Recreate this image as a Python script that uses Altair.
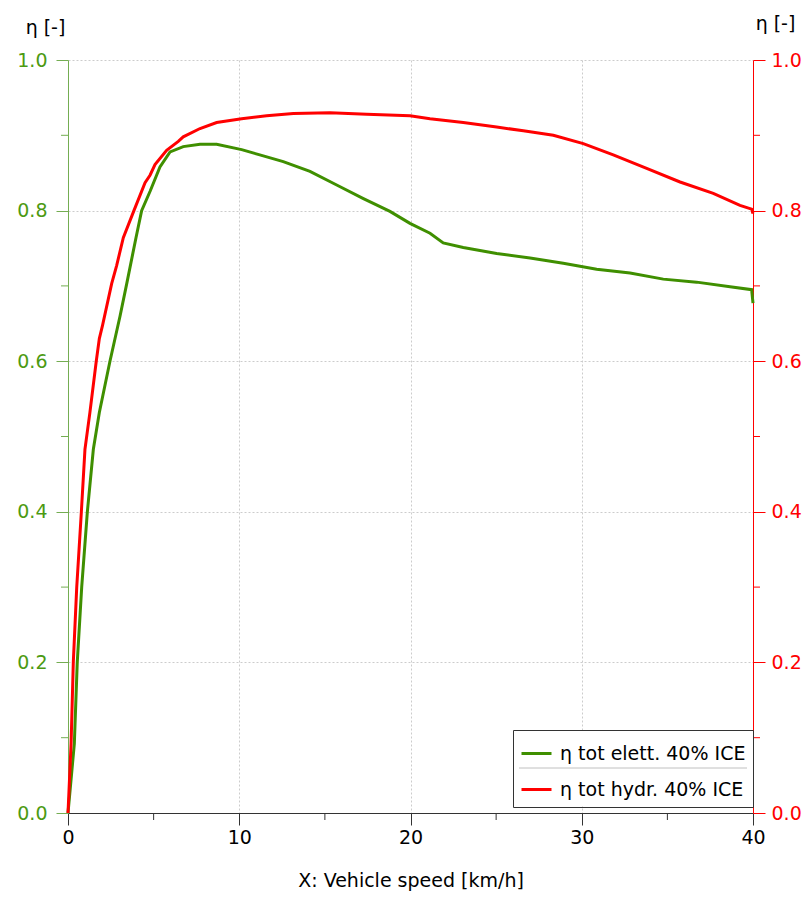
import altair as alt
import pandas as pd

# ---- data ----
speed_elett = [0, 0.37, 0.54, 0.80, 1.13, 1.48, 1.83, 2.45, 3.04, 3.43, 3.97, 4.3, 4.8,
               5.37, 5.96, 6.73, 7.71, 8.68, 10.14, 11.2, 12.57, 14.13, 15.69, 17.25,
               18.8, 19.97, 21.14, 21.91, 23.08, 25.03, 26.98, 28.92, 30.87, 32.82,
               34.76, 36.71, 38.66, 39.92, 40.0]
eta_elett = [0, 0.092, 0.2, 0.3, 0.4, 0.483, 0.532, 0.6, 0.66, 0.703, 0.764, 0.8, 0.826,
             0.858, 0.878, 0.885, 0.888, 0.888, 0.881, 0.874, 0.865, 0.852, 0.834, 0.816,
             0.799, 0.783, 0.770, 0.757, 0.751, 0.743, 0.737, 0.730, 0.722, 0.717,
             0.709, 0.705, 0.699, 0.695, 0.677]

speed_hydr = [0, 0.18, 0.31, 0.51, 0.78, 0.99, 1.28, 1.65, 1.83, 2.02, 2.55, 2.84, 3.23,
              3.85, 4.5, 4.79, 5.08, 5.76, 6.44, 6.73, 7.71, 8.68, 10.14, 11.6, 13.16,
              15.3, 17.44, 19.97, 21.14, 23.08, 25.03, 26.59, 28.34, 30.09, 31.84,
              33.79, 35.74, 37.68, 39.24, 39.92, 40.0]
eta_hydr = [0, 0.092, 0.2, 0.3, 0.4, 0.483, 0.532, 0.6, 0.63, 0.648, 0.703, 0.727, 0.764,
            0.8, 0.837, 0.847, 0.861, 0.880, 0.892, 0.898, 0.909, 0.917, 0.922, 0.926, 0.929,
            0.930, 0.928, 0.926, 0.922, 0.917, 0.911, 0.906, 0.900, 0.889, 0.874,
            0.856, 0.838, 0.823, 0.807, 0.802, 0.796]

series_names = ["η tot elett. 40% ICE", "η tot hydr. 40% ICE"]
series_colors = ["#3f8f00", "#ff0000"]

x_major = [0, 10, 20, 30, 40]
x_minor = [5, 15, 25, 35]
y_major = [0.0, 0.2, 0.4, 0.6, 0.8, 1.0]
y_minor = [0.1, 0.3, 0.5, 0.7, 0.9]

x_title = "X: Vehicle speed [km/h]"
y_title = "η [-]"

# ---- layout / style ----
W, H = 685, 753
FONT = "DejaVu Sans"
GREEN_LABEL = "#4c9a12"
GREEN_AXIS = "#74ad52"
GRID = "#cccccc"

df_e = pd.DataFrame({"speed": speed_elett, "eta": eta_elett, "series": series_names[0]})
df_h = pd.DataFrame({"speed": speed_hydr, "eta": eta_hydr, "series": series_names[1]})
df_yminor = pd.DataFrame({"eta": y_minor})
df_xminor = pd.DataFrame({"speed": x_minor})

x_scale = alt.Scale(domain=[0, 40], nice=False, zero=False)
y_scale = alt.Scale(domain=[0, 1], nice=False)
color_scale = alt.Scale(domain=series_names, range=series_colors)

legend = alt.Legend(
    orient="none", legendX=445, legendY=670, title=None,
    symbolType="stroke", symbolStrokeWidth=3, symbolSize=900,
    labelFontSize=19, labelFont=FONT, labelColor="black", labelLimit=0,
    padding=7, rowPadding=9, labelOffset=7, strokeColor="#333333",
)

x_axis = alt.Axis(
    values=x_major, format="d", title=x_title, grid=True, gridColor=GRID,
    gridDash=[2, 2], tickSize=12, domainColor="#333333", tickColor="#333333",
    labelColor="black", labelPadding=3, titlePadding=24, labelFlush=False,
)

left_axis = alt.Axis(
    orient="left", values=y_major, format=".1f", title=y_title, titleAngle=0,
    titleAlign="center", titleBaseline="alphabetic", titleX=-23, titleY=-27,
    grid=True, gridColor=GRID, gridDash=[2, 2], domainColor=GREEN_AXIS,
    tickColor=GREEN_AXIS, labelColor=GREEN_LABEL, tickSize=12, labelPadding=9,
    labelFlush=False,
)

right_axis = alt.Axis(
    orient="right", values=y_major, format=".1f", title=y_title, titleAngle=0,
    titleAlign="center", titleBaseline="alphabetic", titleX=22, titleY=-31,
    grid=False, domainColor="#ff0000", tickColor="#ff0000", labelColor="#ff0000",
    tickSize=12, labelPadding=6, labelFlush=False,
)

# legend background (white box behind the legend) and separator line
legend_bg = alt.Chart(pd.DataFrame({"a": [0]})).mark_rect(color="white").encode(
    x=alt.value(446), x2=alt.value(683), y=alt.value(671), y2=alt.value(746)
)
legend_sep = alt.Chart(pd.DataFrame({"a": [0]})).mark_rule(color="#c0c0c0", strokeWidth=1).encode(
    x=alt.value(451), x2=alt.value(679), y=alt.value(708)
)

green_line = alt.Chart(df_e).mark_line(strokeWidth=3).encode(
    x=alt.X("speed:Q", scale=x_scale, axis=x_axis),
    y=alt.Y("eta:Q", scale=y_scale, axis=left_axis),
    color=alt.Color("series:N", scale=color_scale, legend=legend),
)
green_minor = alt.Chart(df_yminor).mark_rule(color=GREEN_AXIS).encode(
    y=alt.Y("eta:Q", scale=y_scale, axis=left_axis), x=alt.value(-7), x2=alt.value(0)
)
x_minor_ticks = alt.Chart(df_xminor).mark_rule(color="#333333").encode(
    x=alt.X("speed:Q", scale=x_scale, axis=x_axis), y=alt.value(H), y2=alt.value(H + 7)
)

red_line = alt.Chart(df_h).mark_line(strokeWidth=3).encode(
    x=alt.X("speed:Q", scale=x_scale, axis=x_axis),
    y=alt.Y("eta:Q", scale=y_scale, axis=right_axis),
    color=alt.Color("series:N", scale=color_scale, legend=legend),
)
red_minor = alt.Chart(df_yminor).mark_rule(color="#ff0000").encode(
    y=alt.Y("eta:Q", scale=y_scale, axis=right_axis), x=alt.value(W), x2=alt.value(W + 7)
)

left_group = alt.layer(legend_bg, legend_sep, green_minor, x_minor_ticks, green_line)
right_group = alt.layer(red_minor, red_line)

chart = (
    alt.layer(left_group, right_group)
    .resolve_scale(y="independent")
    .properties(
        width=W, height=H,
        autosize=alt.AutoSizeParams(type="none"),
        padding={"left": 60, "top": 52, "right": 50, "bottom": 82},
    )
    .configure_view(stroke=None)
    .configure_axis(
        labelFont=FONT, titleFont=FONT, labelFontSize=19, titleFontSize=19,
        titleFontWeight="normal", titleColor="black",
    )
)

chart.save("out.html", embed_options={"renderer": "svg", "actions": False})
